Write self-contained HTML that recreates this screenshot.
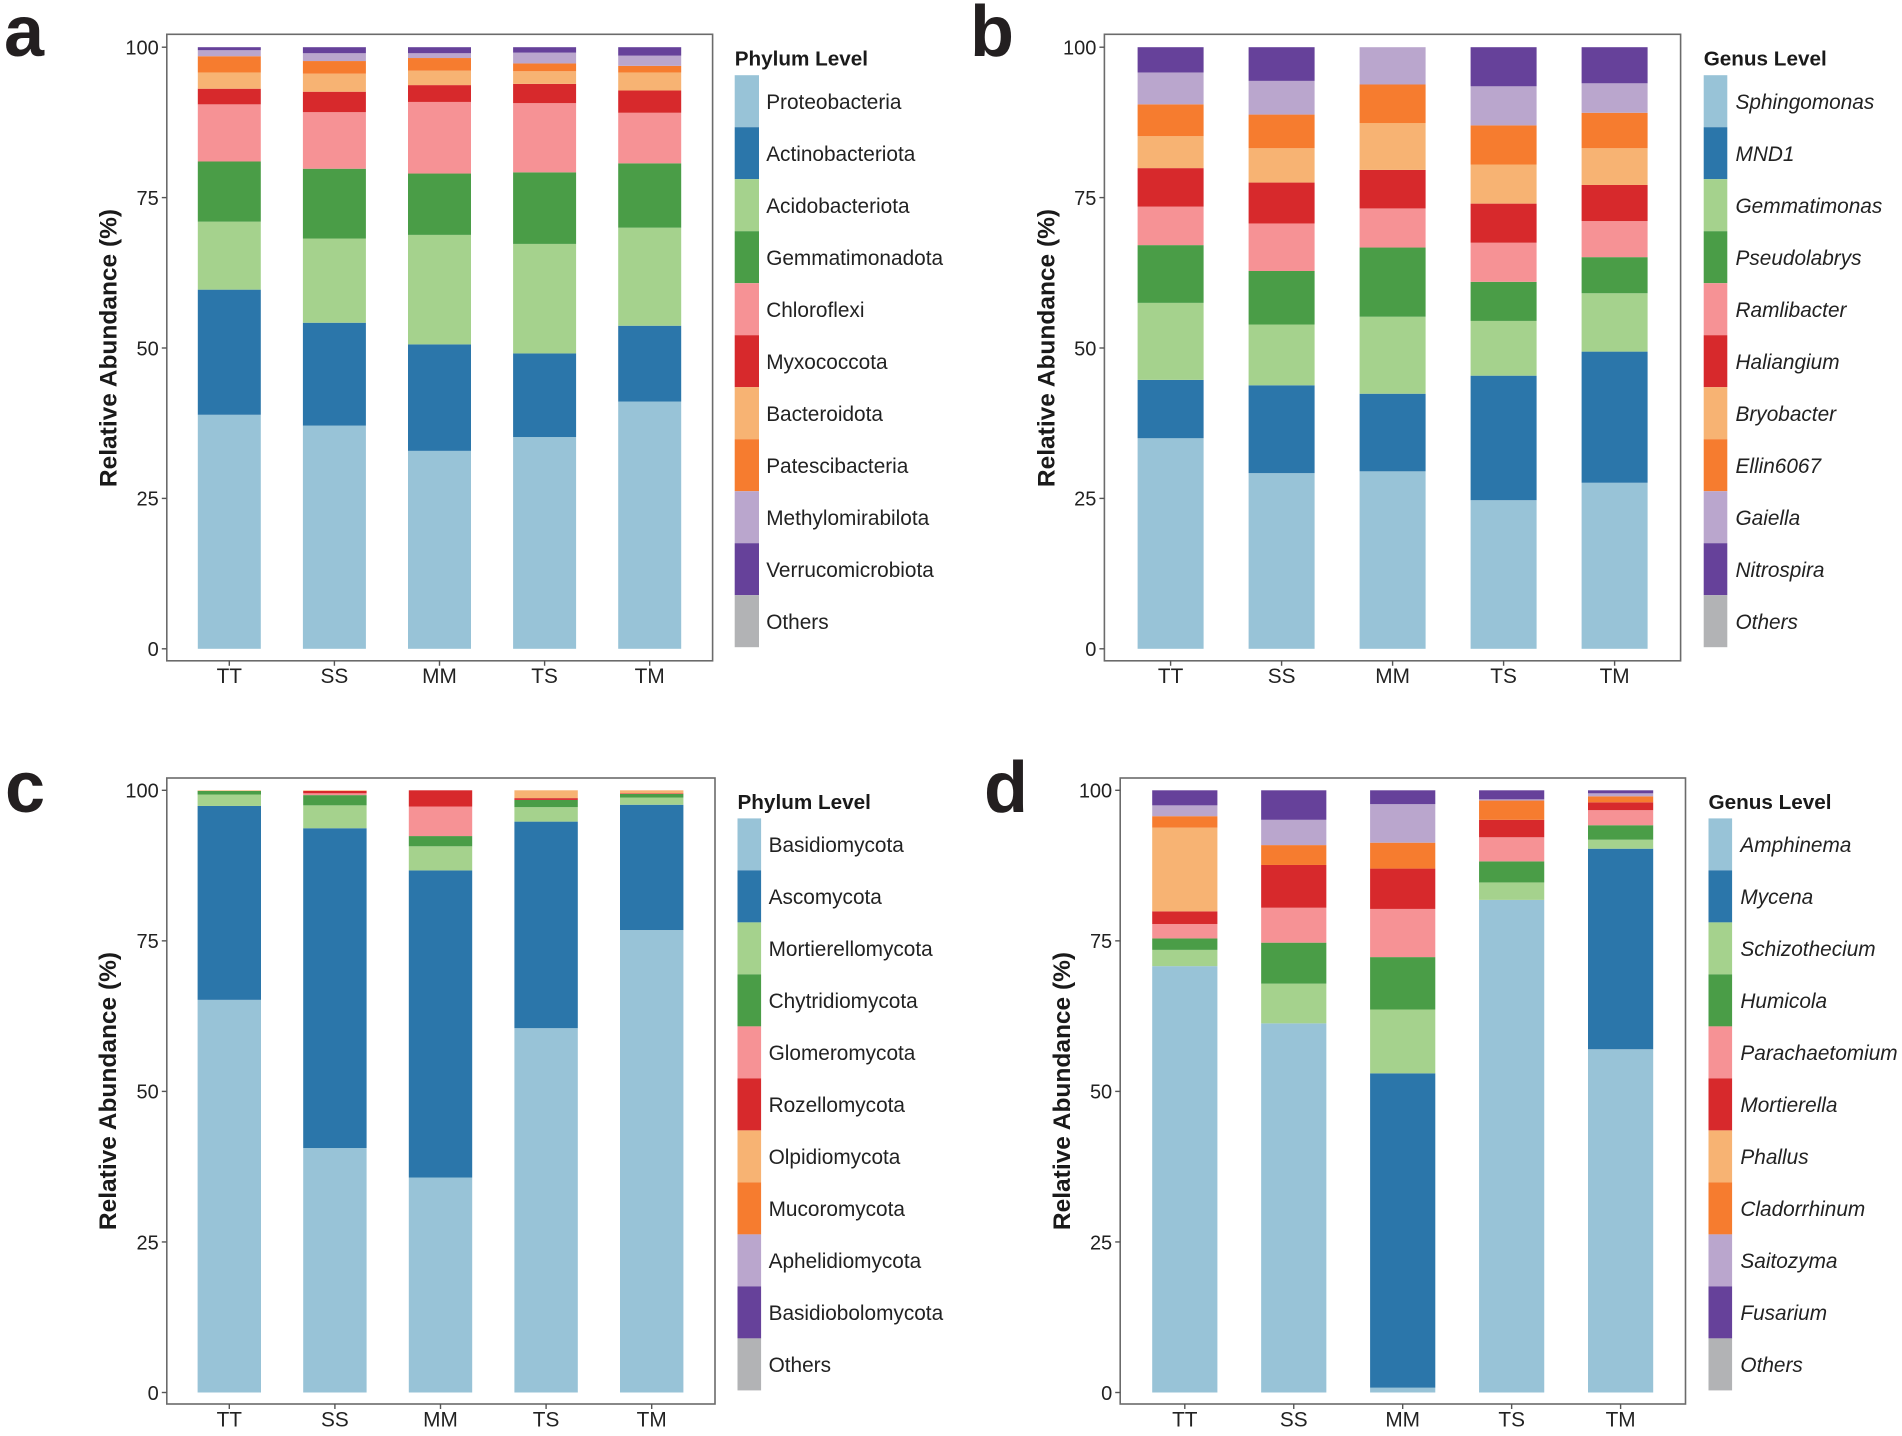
<!DOCTYPE html>
<html lang="en">
<head>
<meta charset="utf-8">
<title>Relative abundance stacked bars</title>
<style>
html,body{margin:0;padding:0;background:#fff;}
svg{display:block;}
text{font-family:"Liberation Sans",sans-serif;}
</style>
</head>
<body>
<svg id="figure" xmlns="http://www.w3.org/2000/svg" width="1902" height="1436" viewBox="0 0 1902 1436"></svg>
<script>
const categories = ["TT","SS","MM","TS","TM"];
const yTicks = [0,25,50,75,100];
const yAxisTitle = "Relative Abundance (%)";

const aTitle = "Phylum Level";
const aSeries = ["Proteobacteria","Actinobacteriota","Acidobacteriota","Gemmatimonadota","Chloroflexi","Myxococcota","Bacteroidota","Patescibacteria","Methylomirabilota","Verrucomicrobiota","Others"];
const aTT = [38.9,20.8,11.3,10.0,9.5,2.6,2.7,2.7,1.0,0.5,0];
const aSS = [37.1,17.1,14.0,11.6,9.4,3.4,3.0,2.1,1.3,1.0,0];
const aMM = [32.9,17.7,18.2,10.2,11.9,2.8,2.4,2.1,0.8,1.0,0];
const aTS = [35.2,13.9,18.2,11.9,11.5,3.2,2.1,1.3,1.8,0.9,0];
const aTM = [41.1,12.6,16.3,10.7,8.4,3.7,3.0,1.1,1.7,1.4,0];

const bTitle = "Genus Level";
const bSeries = ["Sphingomonas","MND1","Gemmatimonas","Pseudolabrys","Ramlibacter","Haliangium","Bryobacter","Ellin6067","Gaiella","Nitrospira","Others"];
const bTT = [35.0,9.7,12.8,9.6,6.4,6.4,5.3,5.3,5.3,4.2,0];
const bSS = [29.2,14.6,10.1,8.9,7.9,6.8,5.7,5.6,5.6,5.6,0];
const bMM = [29.5,12.9,12.8,11.5,6.5,6.4,7.8,6.4,6.2,0,0];
const bTS = [24.7,20.7,9.1,6.5,6.5,6.5,6.5,6.5,6.5,6.5,0];
const bTM = [27.6,21.8,9.7,6.0,6.0,6.0,6.1,5.9,4.9,6.0,0];

const cTitle = "Phylum Level";
const cSeries = ["Basidiomycota","Ascomycota","Mortierellomycota","Chytridiomycota","Glomeromycota","Rozellomycota","Olpidiomycota","Mucoromycota","Aphelidiomycota","Basidiobolomycota","Others"];
const cTT = [65.2,32.2,1.9,0.6,0,0,0.1,0,0,0,0];
const cSS = [40.6,53.1,3.8,1.7,0.3,0.4,0.1,0,0,0,0];
const cMM = [35.7,51.0,4.0,1.7,4.9,2.7,0,0,0,0,0];
const cTS = [60.5,34.3,2.4,1.2,0,0.3,1.3,0,0,0,0];
const cTM = [76.8,20.8,1.2,0.6,0,0.1,0.5,0,0,0,0];

const dTitle = "Genus Level";
const dSeries = ["Amphinema","Mycena","Schizothecium","Humicola","Parachaetomium","Mortierella","Phallus","Cladorrhinum","Saitozyma","Fusarium","Others"];
const dTT = [70.8,0,2.7,1.9,2.4,2.1,13.9,1.9,1.8,2.5,0];
const dSS = [61.3,0,6.6,6.8,5.8,7.1,0,3.3,4.2,4.9,0];
const dMM = [0.8,52.2,10.6,8.7,8.0,6.7,0,4.3,6.4,2.3,0];
const dTS = [81.8,0,2.9,3.5,4.0,2.9,0,3.2,0.2,1.5,0];
const dTM = [57.0,33.3,1.5,2.4,2.5,1.3,0,1.0,0.5,0.5,0];

const palette = ["#98c3d7","#2b76aa","#a5d28d","#4a9d47","#f69295","#d7292c","#f7b373","#f67c2f","#baa6cd","#66419a","#b2b3b5"];

const panels = [
  {id:"a",letter:"a",letterX:4,letterY:56,title:aTitle,series:aSeries,rows:[aTT,aSS,aMM,aTS,aTM],italic:false,
   left:166.8,right:712.6,top:34.3,bottom:660.8,y100:47.2,y0:648.8,first:229.3,step:105.1,barW:63,
   yTitleX:108,yTitleY:348,keyX:734.7,keyW:24.3,keyTop:75.2,keyH:52,labelX:766.2,titleY:65.5,catY:683},
  {id:"b",letter:"b",letterX:970,letterY:56,title:bTitle,series:bSeries,rows:[bTT,bSS,bMM,bTS,bTM],italic:true,
   left:1104.4,right:1680.6,top:34.3,bottom:660.8,y100:47.2,y0:648.8,first:1170.6,step:111,barW:66,
   yTitleX:1046,yTitleY:348,keyX:1703.7,keyW:23.6,keyTop:75.2,keyH:52,labelX:1735.5,titleY:65.5,catY:683},
  {id:"c",letter:"c",letterX:5,letterY:812,title:cTitle,series:cSeries,rows:[cTT,cSS,cMM,cTS,cTM],italic:false,
   left:166.8,right:715,top:778,bottom:1404,y100:790.3,y0:1392.5,first:229.3,step:105.6,barW:63.4,
   yTitleX:107.4,yTitleY:1091,keyX:737.5,keyW:23.6,keyTop:818.4,keyH:52,labelX:768.6,titleY:808.8,catY:1426.5},
  {id:"d",letter:"d",letterX:984,letterY:812,title:dTitle,series:dSeries,rows:[dTT,dSS,dMM,dTS,dTM],italic:true,
   left:1120.2,right:1685.5,top:778,bottom:1404,y100:790.3,y0:1392.5,first:1184.8,step:108.95,barW:65.2,
   yTitleX:1061.4,yTitleY:1091,keyX:1708.5,keyW:23.6,keyTop:818.4,keyH:52,labelX:1740.4,titleY:808.8,catY:1426.5}
];

const NS = "http://www.w3.org/2000/svg";
const root = document.getElementById("figure");
function make(parent, tag, attrs, txt){
  const el = document.createElementNS(NS, tag);
  for(const k in attrs){ el.setAttribute(k, attrs[k]); }
  if(txt !== undefined){ el.textContent = txt; }
  parent.appendChild(el);
  return el;
}
function slug(s){ return s.toLowerCase().replace(/[^a-z0-9]+/g,"-"); }

panels.forEach(function(p){
  const yScale = function(v){ return p.y0 - (p.y0 - p.y100) * v / 100; };
  const xScale = function(i){ return p.first + p.step * i; };

  const g = make(root,"g",{});
  
  

  const letter = make(g,"text",{x:p.letterX,y:p.letterY,"font-size":72,"font-weight":"bold",fill:"#231f20"},p.letter);
  
  

  const frame = make(g,"rect",{x:p.left,y:p.top,width:p.right-p.left,height:p.bottom-p.top,fill:"#fff",stroke:"#6b6b6b","stroke-width":1.6});
  
  

  categories.forEach(function(cat,i){
    const bar = make(g,"g",{});
    
    
    let cum = 0;
    p.rows[i].forEach(function(v,s){
      if(v <= 0){ return; }
      const yTop = yScale(cum + v), yBot = yScale(cum);
      const seg = make(bar,"rect",{x:xScale(i)-p.barW/2,y:yTop,width:p.barW,height:yBot-yTop,fill:palette[s]});
      
      
      cum += v;
    });
    const tick = make(g,"line",{x1:xScale(i),x2:xScale(i),y1:p.bottom,y2:p.bottom+5,stroke:"#555","stroke-width":1.4});
    
    
    const lab = make(g,"text",{x:xScale(i),y:p.catY,"text-anchor":"middle","font-size":20.8,fill:"#222"},cat);
    
    
  });

  yTicks.forEach(function(t){
    const tick = make(g,"line",{x1:p.left-5,x2:p.left,y1:yScale(t),y2:yScale(t),stroke:"#555","stroke-width":1.4});
    
    
    const lab = make(g,"text",{x:p.left-8,y:yScale(t)+7.3,"text-anchor":"end","font-size":20,fill:"#222"},t);
    
    
  });

  const yTitle = make(g,"text",{x:0,y:0,"text-anchor":"middle","font-size":24.5,"font-weight":"bold",fill:"#1a1a1a",
    transform:"translate("+(p.yTitleX+8.5)+","+p.yTitleY+") rotate(-90)"},yAxisTitle);
  
  

  const legendTitle = make(g,"text",{x:p.keyX,y:p.titleY,"font-size":20.7,"font-weight":"bold",fill:"#1a1a1a"},p.title);
  
  

  p.series.forEach(function(name,s){
    const entry = make(g,"g",{});
    
    
    const key = make(entry,"rect",{x:p.keyX,y:p.keyTop+p.keyH*s,width:p.keyW,height:p.keyH,fill:palette[s]});
    
    
    const attrs = {x:p.labelX,y:p.keyTop+p.keyH*s+p.keyH/2+7.8,"font-size":20.8,fill:"#222"};
    if(p.italic){ attrs["font-style"] = "italic"; }
    const label = make(entry,"text",attrs,name);
    
    
  });
});
</script>
</body>
</html>
